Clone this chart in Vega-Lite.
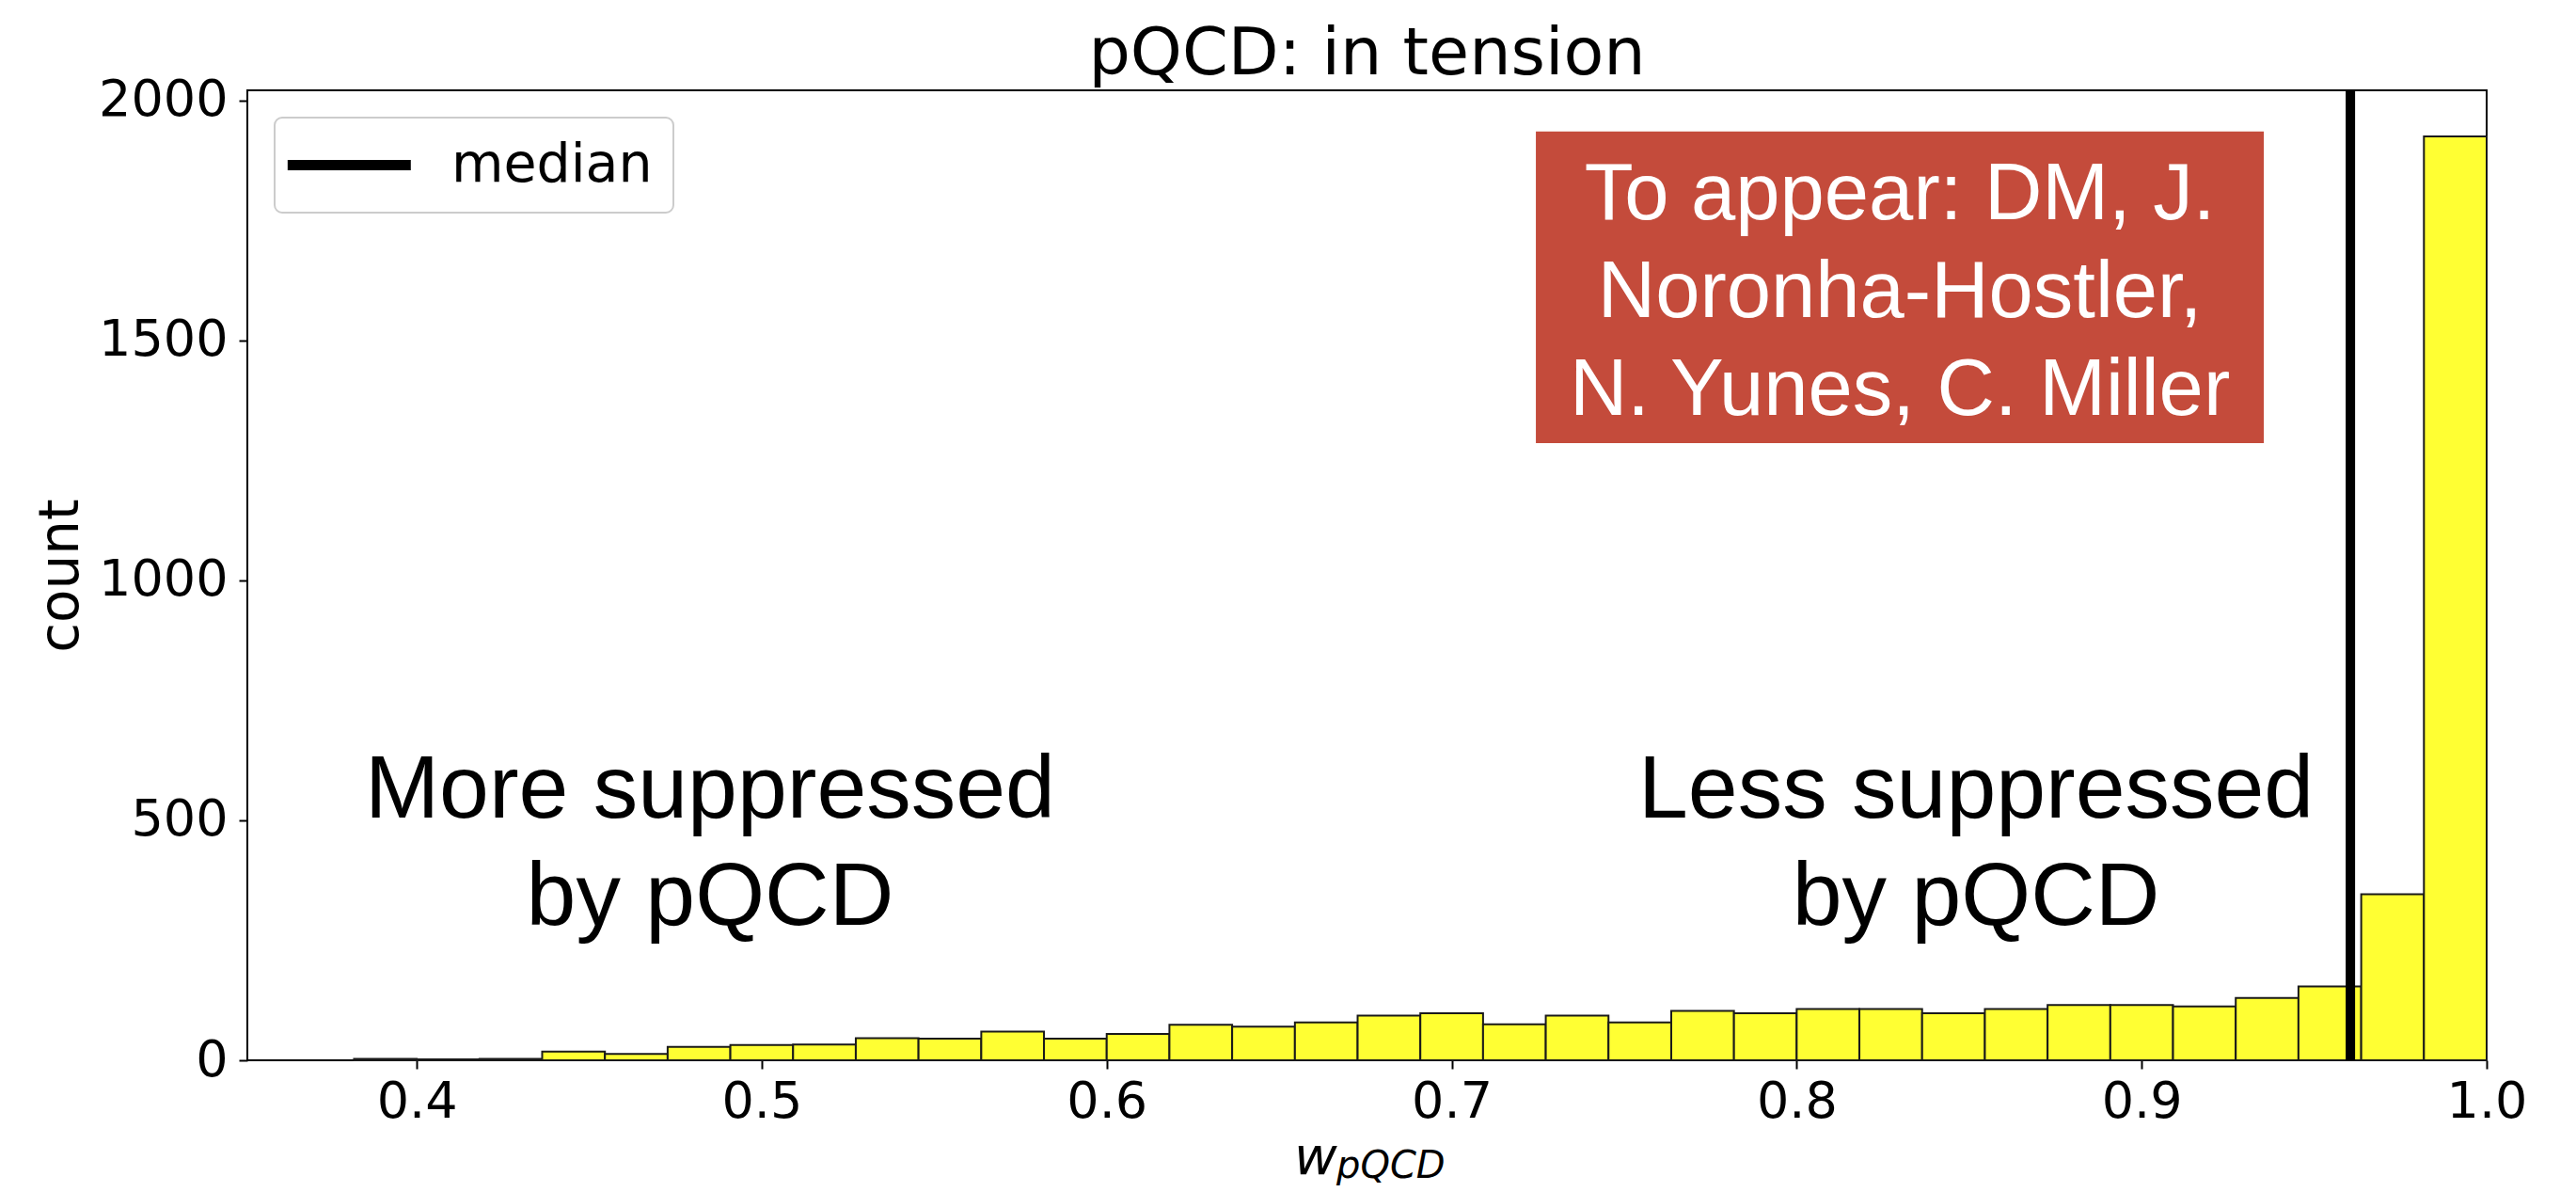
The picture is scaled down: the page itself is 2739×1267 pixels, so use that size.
{
  "$schema": "https://vega.github.io/schema/vega-lite/v6.json",
  "autosize": {"type": "none"},
  "padding": {"left": 263, "top": 96, "right": 95, "bottom": 140},
  "width": 2381,
  "height": 1031,
  "background": "white",
  "title": {
    "text": "pQCD: in tension",
    "font": "DejaVu Sans",
    "fontSize": 70,
    "fontWeight": "normal",
    "color": "black",
    "frame": "group",
    "anchor": "middle",
    "offset": -14
  },
  "config": {
    "view": {"stroke": "black", "strokeWidth": 2},
    "axis": {
      "domain": false,
      "grid": false,
      "labelFont": "DejaVu Sans",
      "labelFontSize": 54,
      "labelColor": "black",
      "tickColor": "black",
      "tickWidth": 2,
      "tickSize": 9,
      "labelOverlap": false,
      "labelFlush": false,
      "titleFont": "DejaVu Sans",
      "titleFontWeight": "normal",
      "titleColor": "black"
    },
    "legend": {
      "orient": "top-left",
      "offset": 29,
      "fillColor": "white",
      "strokeColor": "#cccccc",
      "strokeWidth": 2,
      "cornerRadius": 8,
      "padding": 22,
      "labelFont": "DejaVu Sans",
      "labelFontSize": 57,
      "labelColor": "black",
      "labelLimit": 0,
      "labelOffset": 109,
      "symbolType": "M-2.8,0H7.2",
      "symbolStrokeWidth": 11,
      "symbolSize": 686
    }
  },
  "datasets": {
    "hist": [
      {"lo": 0.38182, "hi": 0.40000, "count": 3},
      {"lo": 0.40000, "hi": 0.41818, "count": 2},
      {"lo": 0.41818, "hi": 0.43636, "count": 3},
      {"lo": 0.43636, "hi": 0.45455, "count": 18},
      {"lo": 0.45455, "hi": 0.47273, "count": 13},
      {"lo": 0.47273, "hi": 0.49091, "count": 28},
      {"lo": 0.49091, "hi": 0.50909, "count": 32},
      {"lo": 0.50909, "hi": 0.52727, "count": 33},
      {"lo": 0.52727, "hi": 0.54545, "count": 46},
      {"lo": 0.54545, "hi": 0.56364, "count": 45},
      {"lo": 0.56364, "hi": 0.58182, "count": 60},
      {"lo": 0.58182, "hi": 0.60000, "count": 45},
      {"lo": 0.60000, "hi": 0.61818, "count": 55},
      {"lo": 0.61818, "hi": 0.63636, "count": 74},
      {"lo": 0.63636, "hi": 0.65455, "count": 70},
      {"lo": 0.65455, "hi": 0.67273, "count": 79},
      {"lo": 0.67273, "hi": 0.69091, "count": 93},
      {"lo": 0.69091, "hi": 0.70909, "count": 98},
      {"lo": 0.70909, "hi": 0.72727, "count": 75},
      {"lo": 0.72727, "hi": 0.74545, "count": 93},
      {"lo": 0.74545, "hi": 0.76364, "count": 79},
      {"lo": 0.76364, "hi": 0.78182, "count": 103},
      {"lo": 0.78182, "hi": 0.80000, "count": 98},
      {"lo": 0.80000, "hi": 0.81818, "count": 107},
      {"lo": 0.81818, "hi": 0.83636, "count": 107},
      {"lo": 0.83636, "hi": 0.85455, "count": 98},
      {"lo": 0.85455, "hi": 0.87273, "count": 107},
      {"lo": 0.87273, "hi": 0.89091, "count": 115},
      {"lo": 0.89091, "hi": 0.90909, "count": 115},
      {"lo": 0.90909, "hi": 0.92727, "count": 112},
      {"lo": 0.92727, "hi": 0.94545, "count": 130},
      {"lo": 0.94545, "hi": 0.96364, "count": 154},
      {"lo": 0.96364, "hi": 0.98182, "count": 346},
      {"lo": 0.98182, "hi": 1.00000, "count": 1925}
    ],
    "median": [{"stat": "median", "w": 0.9605}],
    "credit": [{"note": "To appear: DM, J.\nNoronha-Hostler,\nN. Yunes, C. Miller"}],
    "more": [{"note": "More suppressed\nby pQCD"}],
    "less": [{"note": "Less suppressed\nby pQCD"}],
    "xtitle": [{"w": "w", "sub": "pQCD"}]
  },
  "layer": [
    {
      "data": {"name": "hist"},
      "mark": {"type": "rect", "fill": "#ffff33", "stroke": "#1a1a1a", "strokeWidth": 2},
      "encoding": {
        "x": {
          "field": "lo",
          "type": "quantitative",
          "scale": {"domain": [0.3509, 1.0], "nice": false, "zero": false},
          "axis": {
            "values": [0.4, 0.5, 0.6, 0.7, 0.8, 0.9, 1.0],
            "format": ".1f",
            "labelPadding": 8,
            "title": null
          }
        },
        "x2": {"field": "hi"},
        "y": {
          "field": "count",
          "type": "quantitative",
          "scale": {"domain": [0, 2021], "nice": false},
          "axis": {
            "values": [0, 500, 1000, 1500, 2000],
            "format": "d",
            "labelPadding": 12,
            "title": "count",
            "titleFontSize": 58,
            "titlePadding": 10
          }
        },
        "y2": {"datum": 0}
      }
    },
    {
      "data": {"name": "median"},
      "mark": {"type": "rule", "strokeWidth": 10},
      "encoding": {
        "x": {"field": "w", "type": "quantitative"},
        "color": {
          "field": "stat",
          "type": "nominal",
          "scale": {"range": ["black"]},
          "legend": {"title": null}
        }
      }
    },
    {
      "data": {"name": "credit"},
      "mark": {"type": "rect", "fill": "#c44b3b"},
      "encoding": {
        "x": {"datum": 0.7244, "type": "quantitative"},
        "x2": {"datum": 0.9354},
        "y": {"datum": 1935, "type": "quantitative"},
        "y2": {"datum": 1286}
      }
    },
    {
      "data": {"name": "credit"},
      "mark": {
        "type": "text",
        "font": "Liberation Sans",
        "fontSize": 85,
        "color": "white",
        "align": "center",
        "baseline": "alphabetic",
        "lineBreak": "\n",
        "lineHeight": 104
      },
      "encoding": {
        "x": {"datum": 0.8299, "type": "quantitative"},
        "y": {"datum": 1752, "type": "quantitative"},
        "text": {"field": "note"}
      }
    },
    {
      "data": {"name": "more"},
      "mark": {
        "type": "text",
        "font": "Liberation Sans",
        "fontSize": 95,
        "color": "black",
        "align": "center",
        "baseline": "alphabetic",
        "lineBreak": "\n",
        "lineHeight": 114
      },
      "encoding": {
        "x": {"datum": 0.485, "type": "quantitative"},
        "y": {"datum": 505, "type": "quantitative"},
        "text": {"field": "note"}
      }
    },
    {
      "data": {"name": "less"},
      "mark": {
        "type": "text",
        "font": "Liberation Sans",
        "fontSize": 95,
        "color": "black",
        "align": "center",
        "baseline": "alphabetic",
        "lineBreak": "\n",
        "lineHeight": 114
      },
      "encoding": {
        "x": {"datum": 0.852, "type": "quantitative"},
        "y": {"datum": 505, "type": "quantitative"},
        "text": {"field": "note"}
      }
    },
    {
      "data": {"name": "xtitle"},
      "mark": {
        "type": "text",
        "font": "DejaVu Sans",
        "fontStyle": "italic",
        "fontSize": 56,
        "color": "black",
        "align": "left",
        "baseline": "alphabetic"
      },
      "encoding": {
        "x": {"datum": 0.6543, "type": "quantitative"},
        "y": {"datum": -237, "type": "quantitative"},
        "text": {"field": "w"}
      }
    },
    {
      "data": {"name": "xtitle"},
      "mark": {
        "type": "text",
        "font": "DejaVu Sans",
        "fontStyle": "italic",
        "fontSize": 40,
        "color": "black",
        "align": "left",
        "baseline": "alphabetic"
      },
      "encoding": {
        "x": {"datum": 0.6666, "type": "quantitative"},
        "y": {"datum": -245, "type": "quantitative"},
        "text": {"field": "sub"}
      }
    }
  ]
}
